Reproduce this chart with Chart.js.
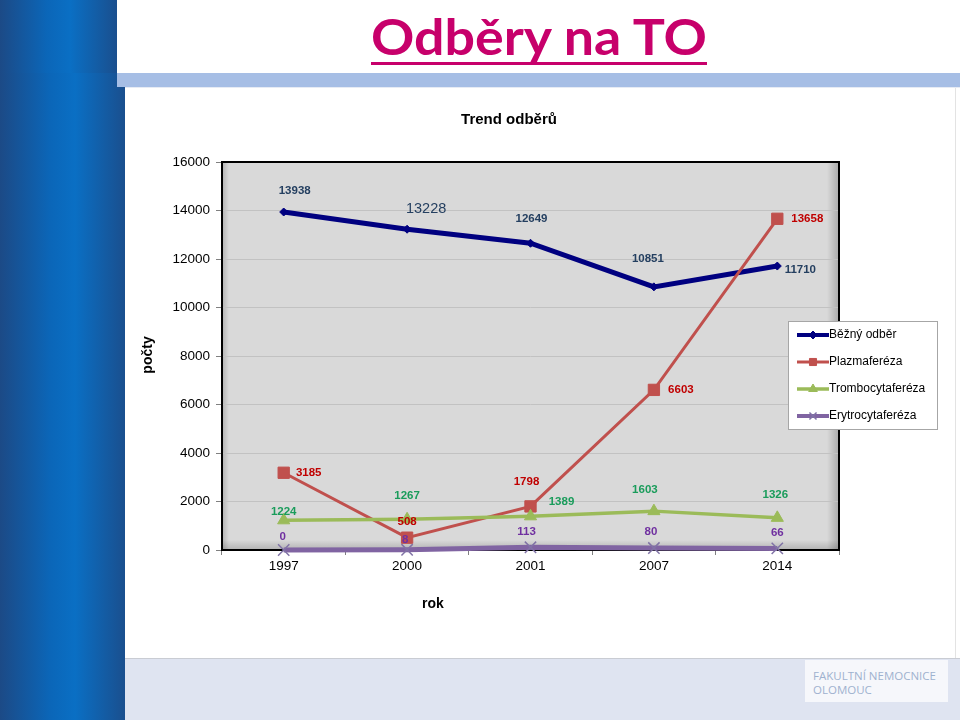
<!DOCTYPE html>
<html>
<head>
<meta charset="utf-8">
<script src="https://cdn.jsdelivr.net/npm/chart.js@4.4.1/dist/chart.umd.min.js"></script>
<style>
  html, body { margin: 0; padding: 0; }
  body { width: 960px; height: 720px; position: relative; overflow: hidden; background: #ffffff; font-family: "Liberation Sans", Arial, sans-serif; }
  .abs { position: absolute; }
  #stripeTop { left: 0; top: 0; width: 117px; height: 73px; background: linear-gradient(to right, #1c4a86 0%, #0b66b8 40%, #0a6fc4 60%, #1a4f8e 100%); }
  #stripe { left: 0; top: 73px; width: 125px; height: 647px; background: linear-gradient(to right, #1c4a86 0%, #0b66b8 40%, #0a6fc4 60%, #1a4f8e 100%); }
  #band { left: 117px; top: 73px; width: 843px; height: 14px; background: #a6bee5; }
  #bandLine { left: 125px; top: 87px; width: 835px; height: 1px; background: #e6ebf4; }
  #panelEdge { left: 955px; top: 88px; width: 1px; height: 570px; background: #e3e3e3; }
  #bottom { left: 125px; top: 658px; width: 835px; height: 62px; background: #dfe4f1; border-top: 1px solid #c9ccd3; box-sizing: border-box; }
  #logo { left: 805px; top: 660px; width: 143px; height: 42px; background: #f6f7fb; }
  #logo div { position: absolute; left: 8px; font-family: "Open Sans", sans-serif; font-size: 11.5px; color: #9fb2cf; letter-spacing: 0; white-space: nowrap; transform-origin: 0 0; }
  #title { left: 0; top: 0; width: 960px; height: 73px; }
  #titleText { position: absolute; top: 8px; left: 371px; font-family: Lato, "Open Sans", sans-serif; font-weight: bold; font-size: 50px; color: #c7006b; white-space: nowrap; transform-origin: 0 0; line-height: 1.15; }
  #underline { left: 371px; top: 62px; width: 336px; height: 3px; background: #c7006b; }
  canvas { position: absolute; left: 0; top: 0; }
</style>
</head>
<body>
<div class="abs" id="stripeTop"></div>
<div class="abs" id="stripe"></div>
<div class="abs" id="band"></div>
<div class="abs" id="bandLine"></div>
<div class="abs" id="panelEdge"></div>
<div class="abs" id="bottom"></div>
<div class="abs" id="logo"><div id="lg1" style="top:8px">FAKULTNÍ NEMOCNICE</div><div style="top:22px">OLOMOUC</div></div>
<div class="abs" id="title"><span id="titleText">Odběry na TO</span></div>
<div class="abs" id="underline"></div>
<canvas id="c" width="960" height="720"></canvas>
<script>
// ---- data ----
const years = ['1997', '2000', '2001', '2007', '2014'];
const seriesNames = ['Běžný odběr', 'Plazmaferéza', 'Trombocytaferéza', 'Erytrocytaferéza'];
const bezny = [13938, 13228, 12649, 10851, 11710];
const plazma = [3185, 508, 1798, 6603, 13658];
const tromb = [1224, 1267, 1389, 1603, 1326];
const eryt = [0, 8, 113, 80, 66];
const yTicks = [0, 2000, 4000, 6000, 8000, 10000, 12000, 14000, 16000];
const chartTitle = 'Trend odběrů';
const yTitle = 'počty';
const xTitle = 'rok';

// fit slide title width
(function () {
  const t = document.getElementById('titleText');
  const w = t.getBoundingClientRect().width;
  t.style.transform = 'scaleX(' + (336 / w) + ')';
  const l = document.getElementById('lg1');
  const lw = l.getBoundingClientRect().width;
  if (lw > 128) l.style.transform = 'scaleX(' + (128 / lw) + ')';
})();

// label offsets (styling only): [dx, dy] relative to point
const labelOffsets = [
  [[11, -21], [19, -20], [1, -24], [-6, -28], [23, 4]],
  [[25, 0], [0, -16], [-4, -25], [27, 0], [30, 0]],
  [[0, -8], [0, -23], [31, -14], [-9, -21], [-2, -23]],
  [[-1, -13], [-2, -10], [-4, -15], [-3, -16], [0, -16]]
];
const labelColors = ['#243f60', '#c00000', '#1a9c5b', '#7030a0'];

const lineColors = ['#000080', '#c0504d', '#9bbb59', '#8064a2'];

const plotBg = {
  id: 'plotBg',
  beforeDraw(chart) {
    const { ctx, chartArea: a } = chart;
    ctx.save();
    ctx.fillStyle = '#d9d9d9';
    ctx.fillRect(a.left, a.top, a.right - a.left, a.bottom - a.top);
    let g = ctx.createLinearGradient(a.right - 12, 0, a.right, 0);
    g.addColorStop(0, 'rgba(0,0,0,0)');
    g.addColorStop(1, 'rgba(0,0,0,0.22)');
    ctx.fillStyle = g;
    ctx.fillRect(a.right - 12, a.top, 12, a.bottom - a.top);
    g = ctx.createLinearGradient(0, a.bottom - 10, 0, a.bottom);
    g.addColorStop(0, 'rgba(0,0,0,0)');
    g.addColorStop(1, 'rgba(0,0,0,0.18)');
    ctx.fillStyle = g;
    ctx.fillRect(a.left, a.bottom - 10, a.right - a.left, 10);
    g = ctx.createLinearGradient(a.left, 0, a.left + 7, 0);
    g.addColorStop(0, 'rgba(0,0,0,0.18)');
    g.addColorStop(1, 'rgba(0,0,0,0)');
    ctx.fillStyle = g;
    ctx.fillRect(a.left, a.top, 7, a.bottom - a.top);
    ctx.restore();
  },
  beforeDatasetsDraw(chart) {
    const { ctx, chartArea: a } = chart;
    ctx.save();
    ctx.strokeStyle = '#000000';
    ctx.lineWidth = 2;
    ctx.strokeRect(a.left, a.top, a.right - a.left, a.bottom - a.top);
    ctx.restore();
  }
};

const dataLabels = {
  id: 'dataLabels',
  afterDatasetsDraw(chart) {
    const ctx = chart.ctx;
    ctx.save();
    ctx.textAlign = 'center';
    ctx.textBaseline = 'middle';
    chart.data.datasets.forEach((ds, di) => {
      const meta = chart.getDatasetMeta(di);
      meta.data.forEach((pt, i) => {
        const off = labelOffsets[di][i];
        ctx.fillStyle = labelColors[di];
        ctx.font = (di === 0 && i === 1) ? 'normal 14.5px "Liberation Sans", Arial, sans-serif' : 'bold 11.5px "Liberation Sans", Arial, sans-serif';
        ctx.fillText(String(ds.data[i]), pt.x + off[0], pt.y + off[1]);
      });
    });
    ctx.restore();
  }
};

const extraText = {
  id: 'extraText',
  afterDraw(chart) {
    const ctx = chart.ctx;
    ctx.save();
    ctx.fillStyle = '#000';
    ctx.textAlign = 'center';
    ctx.textBaseline = 'middle';
    ctx.font = 'bold 15px "Liberation Sans", Arial, sans-serif';
    ctx.fillText(chartTitle, 509, 120);
    ctx.font = 'bold 14px "Liberation Sans", Arial, sans-serif';
    ctx.fillText(xTitle, 433, 604);
    ctx.translate(148, 355);
    ctx.rotate(-Math.PI / 2);
    ctx.fillText(yTitle, 0, 0);
    ctx.restore();

    // legend
    const lx = 788, ly = 321, lw = 149, lh = 108;
    ctx.save();
    ctx.fillStyle = '#ffffff';
    ctx.fillRect(lx, ly, lw, lh);
    ctx.strokeStyle = '#a6a6a6';
    ctx.lineWidth = 1;
    ctx.strokeRect(lx + 0.5, ly + 0.5, lw, lh);
    const ys = [335, 362, 389, 416];
    chart.data.datasets.forEach((ds, di) => {
      const y = ys[di];
      ctx.strokeStyle = ds.borderColor;
      ctx.lineWidth = Math.min(ds.borderWidth, 4);
      ctx.beginPath();
      ctx.moveTo(797, y);
      ctx.lineTo(829, y);
      ctx.stroke();
      ctx.fillStyle = ds.pointBackgroundColor;
      ctx.strokeStyle = ds.pointBorderColor;
      ctx.lineWidth = ds.pointBorderWidth || 1;
      Chart.helpers.drawPoint(ctx, {
        pointStyle: ds.pointStyle,
        radius: Math.min(ds.pointRadius, 5),
        rotation: 0,
        borderWidth: ds.pointBorderWidth || 1
      }, 813, y);
      ctx.fillStyle = '#000';
      ctx.font = '12px "Liberation Sans", Arial, sans-serif';
      ctx.textAlign = 'left';
      ctx.textBaseline = 'middle';
      ctx.fillText(ds.label, 829, y);
    });
    ctx.restore();
  }
};

new Chart(document.getElementById('c'), {
  type: 'line',
  data: {
    labels: years,
    datasets: [
      { label: seriesNames[0], data: bezny, borderColor: lineColors[0], backgroundColor: lineColors[0], borderWidth: 5, pointStyle: 'rectRot', pointRadius: 4, pointBackgroundColor: lineColors[0], pointBorderColor: lineColors[0], pointBorderWidth: 1, order: 4, clip: false },
      { label: seriesNames[1], data: plazma, borderColor: lineColors[1], backgroundColor: lineColors[1], borderWidth: 3, pointStyle: 'rect', pointRadius: 8, pointBackgroundColor: lineColors[1], pointBorderColor: lineColors[1], pointBorderWidth: 1, order: 3, clip: false },
      { label: seriesNames[2], data: tromb, borderColor: lineColors[2], backgroundColor: lineColors[2], borderWidth: 3.5, pointStyle: 'triangle', pointRadius: 7, pointBackgroundColor: lineColors[2], pointBorderColor: lineColors[2], pointBorderWidth: 1, order: 2, clip: false },
      { label: seriesNames[3], data: eryt, borderColor: lineColors[3], backgroundColor: lineColors[3], borderWidth: 5, pointStyle: 'crossRot', pointRadius: 8, pointBackgroundColor: lineColors[3], pointBorderColor: '#8073a6', pointBorderWidth: 1.5, order: 1, clip: false }
    ]
  },
  options: {
    responsive: false,
    animation: false,
    devicePixelRatio: 1,
    layout: { padding: { left: 162, right: 121, top: 162, bottom: 140 } },
    plugins: { legend: { display: false }, title: { display: false }, tooltip: { enabled: false } },
    elements: { line: { tension: 0 } },
    scales: {
      x: {
        offset: true,
        grid: { offset: true, drawOnChartArea: false, tickLength: 5, color: '#808080' },
        border: { display: false },
        ticks: { color: '#000', font: { size: 13.5, family: '"Liberation Sans", Arial, sans-serif' }, padding: 3, maxRotation: 0 },
        afterFit(s) { s.height = 30; }
      },
      y: {
        min: 0, max: 16000,
        afterBuildTicks(s) { s.ticks = yTicks.map(v => ({ value: v })); },
        grid: { color: '#c2c2c2', tickColor: '#808080', tickLength: 6 },
        border: { display: false },
        ticks: { color: '#000', font: { size: 13.5, family: '"Liberation Sans", Arial, sans-serif' }, padding: 6, callback: (v) => String(v) },
        afterFit(s) { s.width = 60; }
      }
    }
  },
  plugins: [plotBg, dataLabels, extraText]
});
</script>
</body>
</html>
